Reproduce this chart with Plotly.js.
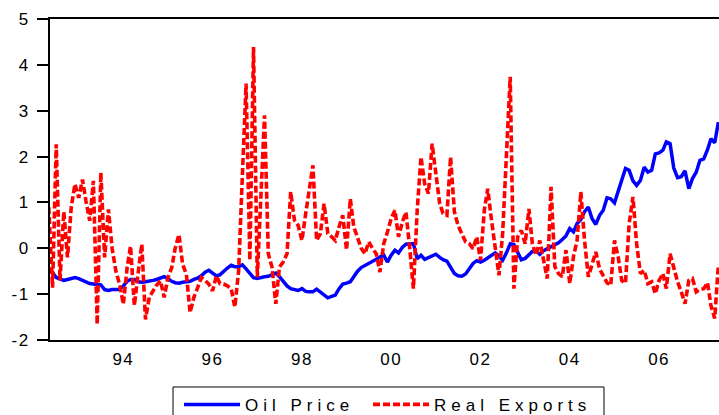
<!DOCTYPE html>
<html>
<head>
<meta charset="utf-8">
<script src="https://cdn.plot.ly/plotly-3.0.1.min.js"></script>
<style>
  html, body { margin: 0; padding: 0; background: #fff; }
  #chart { width: 719px; height: 415px; }
  text.legendtext, .legend text, .legend2 text, g[class*="legend"] text.legendtext { letter-spacing: 5px !important; }
  .xtick text, .ytick text { letter-spacing: 1.5px; }
</style>
</head>
<body>
<div id="chart"></div>
<script>
// Monthly observations, first month 1992-05
const startYear = 1992;
const startMonth = 5;

const oilPrice = [
  -0.45,
  -0.53, -0.64, -0.68, -0.70, -0.68, -0.65, -0.64, -0.66, -0.70, -0.75,
  -0.77, -0.78, -0.80, -0.80, -0.90, -0.92, -0.90, -0.90, -0.90, -0.82,
  -0.72, -0.68, -0.68, -0.73, -0.74, -0.73, -0.72, -0.70, -0.68, -0.64,
  -0.62, -0.66, -0.72, -0.75, -0.76, -0.74, -0.73, -0.72, -0.68, -0.65,
  -0.60, -0.52, -0.48, -0.55, -0.60, -0.58, -0.50, -0.43, -0.37, -0.40,
  -0.40, -0.36, -0.45, -0.55, -0.64, -0.66, -0.63, -0.62, -0.61, -0.58,
  -0.54, -0.62, -0.72, -0.82, -0.88, -0.91, -0.92, -0.88, -0.94, -0.95,
  -0.95, -0.89, -0.95, -1.02, -1.08, -1.05, -1.02, -0.88, -0.78, -0.76,
  -0.73, -0.62, -0.50, -0.42, -0.38, -0.33, -0.28, -0.24, -0.19, -0.15,
  -0.30, -0.15, -0.04, -0.10, 0.02, 0.09, 0.10, 0.10, -0.23, -0.15,
  -0.24, -0.20, -0.16, -0.13, -0.20, -0.25, -0.28, -0.40, -0.55, -0.60,
  -0.61, -0.56, -0.43, -0.33, -0.27, -0.30, -0.26, -0.21, -0.14, -0.10,
  -0.17, -0.26, -0.10, 0.10, 0.08, -0.10, -0.25, -0.22, -0.13, -0.07,
  -0.06, -0.13, -0.05, -0.01, 0.04, 0.07, 0.12, 0.19, 0.27, 0.43,
  0.36, 0.54, 0.63, 0.80, 0.90, 0.65, 0.52, 0.72, 0.83, 1.10,
  1.08, 0.99, 1.24, 1.48, 1.74, 1.70, 1.47, 1.37, 1.48, 1.77,
  1.66, 1.70, 2.06, 2.08, 2.14, 2.32, 2.28, 1.75, 1.54, 1.56,
  1.69, 1.30, 1.52, 1.66, 1.92, 1.95, 2.15, 2.39, 2.30, 2.75
];

const realExports = [
  0.90,
  -0.86, 2.27, -0.70, 0.80, -0.20, 0.90, 1.40, 1.10, 1.50, 1.03,
  0.60, 1.47, -1.66, 1.65, -0.20, 0.85, 0.00, -0.50, -0.78, -1.22,
  -0.42, 0.05, -1.25, -0.56, 0.09, -1.55, -1.07, -0.93, -0.80, -0.71,
  -1.07, -0.64, -0.42, 0.00, 0.30, -0.35, -0.57, -1.40, -1.07, -0.86,
  -0.64, -0.70, -0.78, -0.93, -0.60, -0.77, -0.78, -0.82, -0.88, -1.28,
  -0.50, 1.60, 3.59, -0.26, 4.39, -0.63, 1.20, 2.90, -0.12, -0.41,
  -1.21, -0.41, -0.30, -0.12, 1.23, 0.61, 0.50, 0.17, 0.76, 1.30,
  1.81, 0.17, 0.32, 0.97, 0.32, 0.25, 0.17, 0.47, 0.72, -0.04,
  1.08, 0.47, 0.20, 0.00, -0.12, 0.14, 0.00, -0.12, -0.52, 0.10,
  0.35, 0.65, 0.83, 0.25, 0.57, 0.79, 0.00, -0.88, 0.83, 1.99,
  1.41, 1.19, 2.28, 1.56, 0.97, 0.76, 0.72, 1.99, 0.80, 0.50,
  0.30, 0.14, 0.10, -0.01, 0.25, -0.26, 0.83, 1.30, 0.61, 0.03,
  -0.59, 0.32, 2.14, 3.74, -0.88, 0.25, 0.39, 0.10, 0.86, 0.10,
  -0.15, 0.17, -0.26, -0.66, 1.34, -0.40, -0.55, -0.62, -0.04, -0.77,
  -0.17, 0.17, 1.23, 0.17, -0.62, -0.37, -0.08, -0.45, -0.62, -0.75,
  -0.81, 0.17, -0.20, -0.70, -0.76, 0.54, 1.12, 0.10, -0.55, -0.48,
  -0.77, -0.73, -0.99, -0.70, -0.55, -0.88, -0.12, -0.45, -0.73, -0.95,
  -1.21, -0.70, -0.66, -0.95, -0.90, -0.88, -0.75, -1.25, -1.53, -0.35
];

const tickDates = ['1994-01-01', '1996-01-01', '1998-01-01', '2000-01-01', '2002-01-01', '2004-01-01', '2006-01-01'];
const tickLabels = ['94', '96', '98', '00', '02', '04', '06'];
const yTickVals = [-2, -1, 0, 1, 2, 3, 4, 5];
const yTickLabels = ['-2', '-1', '0', '1', '2', '3', '4', '5'];
const seriesNames = ['Oil Price', 'Real Exports'];

function monthDates(n) {
  const out = [];
  for (let i = 0; i < n; i++) {
    const t = (startMonth - 1) + i;
    const y = startYear + Math.floor(t / 12);
    const m = (t % 12) + 1;
    out.push(y + '-' + (m < 10 ? '0' + m : m) + '-01');
  }
  return out;
}
const dates = monthDates(oilPrice.length);

const xRange = ['1992-05-11', '2007-05-06'];
const FONT = '"Liberation Sans", Arial, sans-serif';

const traces = [
  {
    x: dates, y: oilPrice, name: seriesNames[0], type: 'scatter', mode: 'lines',
    line: { color: '#0000FF', width: 3.5 }, legend: 'legend'
  },
  {
    x: dates, y: realExports, name: seriesNames[1], type: 'scatter', mode: 'lines',
    line: { color: '#FF0000', width: 3.6, dash: '7px,3px' }, legend: 'legend2'
  }
];

const legendCommon = {
  orientation: 'h', y: -0.146, xanchor: 'left', yanchor: 'top',
  borderwidth: 0, bgcolor: 'rgba(255,255,255,0)',
  font: { family: FONT, size: 17, color: '#000' },
  itemwidth: 56
};

const layout = {
  width: 719, height: 415,
  margin: { l: 50, r: 0, t: 19, b: 75, autoexpand: false },
  paper_bgcolor: '#ffffff', plot_bgcolor: '#ffffff',
  font: { family: FONT, size: 17, color: '#000' },
  showlegend: true,
  legend: Object.assign({}, legendCommon, { x: 0.1928, entrywidth: 130 }),
  legend2: Object.assign({}, legendCommon, { x: 0.4753, entrywidth: 175 }),
  shapes: [
    { type: 'rect', xref: 'paper', yref: 'paper', x0: 0.1839, x1: 0.8281, y0: -0.1464, y1: -0.35,
      line: { color: '#000', width: 1 }, fillcolor: 'rgba(0,0,0,0)', layer: 'above' }
  ],
  xaxis: {
    type: 'date', range: xRange,
    tickmode: 'array', tickvals: tickDates, ticktext: tickLabels,
    ticks: 'outside', ticklen: 0, tickcolor: '#000',
    showline: true, linecolor: '#000', linewidth: 2, mirror: true,
    showgrid: false, zeroline: false,
    tickfont: { family: FONT, size: 17, color: '#000' },
    ticklabelstandoff: 3
  },
  xaxis2: {
    type: 'date', range: xRange, overlaying: 'x', anchor: 'y', side: 'bottom',
    tickmode: 'linear', tick0: '1993-09-03', dtick: 'M12',
    ticks: 'outside', ticklen: 7, tickwidth: 1.5, tickcolor: '#000',
    showticklabels: false, showline: false, showgrid: false, zeroline: false,
    minor: { tick0: '1992-06-04', dtick: 'M3', ticks: 'outside', ticklen: 4, tickwidth: 1.5, tickcolor: '#000', showgrid: false }
  },
  yaxis: {
    range: [-2, 5], tickmode: 'array', tickvals: yTickVals, ticktext: yTickLabels,
    ticks: 'outside', ticklen: 11, tickwidth: 2, tickcolor: '#000',
    showline: true, linecolor: '#000', linewidth: 2, mirror: false,
    showgrid: false, zeroline: false,
    tickfont: { family: FONT, size: 17, color: '#000' },
    ticklabelstandoff: 4
  }
};

Plotly.newPlot('chart', traces, layout, { displayModeBar: false, staticPlot: true });
</script>
</body>
</html>
